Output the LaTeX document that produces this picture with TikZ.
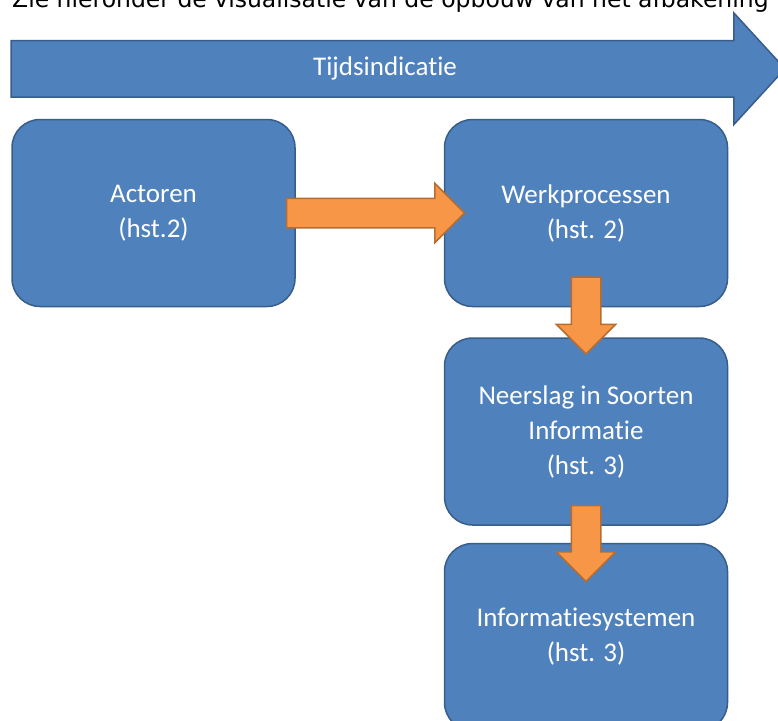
\documentclass[tikz,border=0pt]{standalone}
\usepackage{fontspec}
\setmainfont{Carlito}[Ligatures=NoCommon]
\newfontfamily\introfont{DejaVu Sans}
\usetikzlibrary{positioning,shapes.arrows}
\definecolor{boxblue}{HTML}{4F81BD}
\definecolor{boxline}{HTML}{385D8A}
\definecolor{arrorange}{HTML}{F79646}
\definecolor{arrline}{HTML}{B66D31}

\begin{document}
\begin{tikzpicture}
[
    x = 1pt, y = -1pt,
    node distance = 30pt and 148pt,
    boxstyle/.style = {draw=boxline,
                       line width=1.5pt,
                       fill=boxblue,
                       rounded corners=28pt,
                       minimum width=283pt,
                       minimum height=187pt,
                       align=center,
                       text=white,
                       font=\fontsize{27}{35}\selectfont},
    blockarr/.style = {single arrow,
                       draw=arrline,
                       line width=1.5pt,
                       fill=arrorange,
                       inner xsep=0pt,
                       inner ysep=14pt,
                       minimum width=58pt,
                       single arrow head extend=15pt},
    bigarr/.style   = {single arrow,
                       draw=boxline,
                       line width=1.5pt,
                       fill=boxblue,
                       text=white,
                       font=\fontsize{27}{35}\selectfont,
                       text height=19pt,
                       text depth=6pt,
                       inner ysep=15pt,
                       minimum width=110pt,
                       minimum height=774pt,
                       single arrow head extend=27.5pt,
                       single arrow tip angle=95}
]

\useasboundingbox (0,0) rectangle (778,720);
\clip (0,0) rectangle (778,720);

\node (intro) [anchor=base west, inner sep=0pt,
               font=\introfont\fontsize{23.5}{28}\selectfont] at (12,7) {
Zie hieronder de visualisatie van de opbouw van het afbakening
};

\node (act) [boxstyle] at (153.5,213) {
Actoren\\(hst.2)
};
\node (werk) [boxstyle, right=of act] {
Werkprocessen\\(hst. 2)
};
\node (neer) [boxstyle, below=of werk] {
Neerslag in Soorten\\Informatie\\(hst. 3)
};
\node (info) [boxstyle, below=17pt of neer] {
Informatiesystemen\\(hst. 3)
};

\node (tijd) [bigarr, anchor=tail] at ([xshift=-1pt, yshift=50pt]act.north west) {
Tijdsindicatie
};

\node (a1) [blockarr, anchor=tail, minimum height=178pt] at ([xshift=-10pt]act.east) {};
\node (a2) [blockarr, rotate=-90, anchor=tail, minimum height=77pt] at ([yshift=31pt]werk.south) {};
\node (a3) [blockarr, rotate=-90, anchor=tail, minimum height=76pt] at ([yshift=21pt]neer.south) {};

\end{tikzpicture}
\end{document}
